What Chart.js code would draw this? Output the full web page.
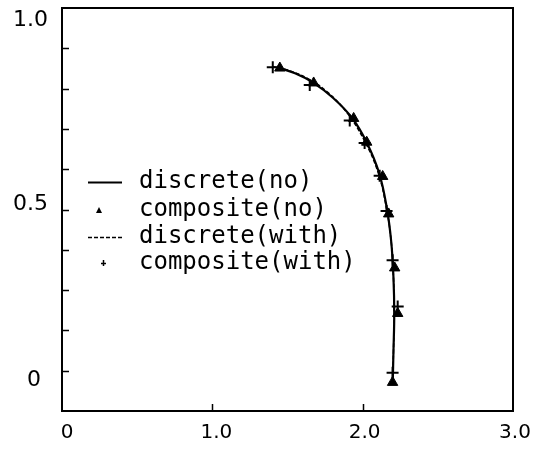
<!DOCTYPE html>
<html>
<head>
<meta charset="utf-8">
<script src="https://cdn.jsdelivr.net/npm/chart.js@4/dist/chart.umd.min.js"></script>
<style>
html,body{margin:0;padding:0;background:#fff;}
#wrap{width:544px;height:458px;position:relative;}
</style>
</head>
<body>
<div id="wrap"><canvas id="c" width="544" height="458"></canvas></div>
<script>
// ---- data ----
const discreteNoX   = [1.43, 1.55, 1.67, 1.80, 1.93, 2.03, 2.11, 2.16, 2.19, 2.205, 2.21, 2.205, 2.20];
const discreteNoY   = [0.853, 0.838, 0.815, 0.778, 0.727, 0.664, 0.590, 0.505, 0.420, 0.330, 0.240, 0.150, 0.070];
const compositeNoX  = [1.449, 1.674, 1.940, 2.027, 2.133, 2.173, 2.213, 2.233, 2.199];
const compositeNoY  = [0.851, 0.814, 0.726, 0.667, 0.582, 0.489, 0.355, 0.242, 0.071];
const discreteWithX = [1.40, 1.50, 1.63, 1.77, 1.90, 2.01, 2.10, 2.155, 2.19, 2.205, 2.21, 2.205, 2.20];
const discreteWithY = [0.855, 0.846, 0.826, 0.790, 0.738, 0.672, 0.595, 0.510, 0.420, 0.330, 0.240, 0.150, 0.080];
const compositeWithX = [1.402, 1.648, 1.914, 2.013, 2.113, 2.159, 2.199, 2.233, 2.199];
const compositeWithY = [0.853, 0.809, 0.721, 0.665, 0.584, 0.496, 0.374, 0.259, 0.095];

const seriesNames = ['discrete(no)', 'composite(no)', 'discrete(with)', 'composite(with)'];
const xTickValues = [0, 1, 2, 3];
const xTickLabels = ['0', '1.0', '2.0', '3.0'];
const xMinorTicks = [1, 2];
const yTickValues = [0, 0.5, 1.0];
const yTickLabels = ['0', '0.5', '1.0'];
const yMinorTicks = [0.1, 0.2, 0.3, 0.4, 0.5, 0.6, 0.7, 0.8, 0.9];

const zip = (xs, ys) => xs.map((x, i) => ({x: x, y: ys[i]}));

const frameAndLabels = {
  id: 'frameAndLabels',
  afterDraw(chart) {
    const ctx = chart.ctx;
    const a = chart.chartArea;
    const xs = chart.scales.x, ys = chart.scales.y;
    ctx.save();
    ctx.strokeStyle = '#000';
    ctx.lineWidth = 2;
    ctx.strokeRect(a.left, a.top, a.right - a.left, a.bottom - a.top);
    // inner ticks
    ctx.lineWidth = 1.5;
    ctx.beginPath();
    yMinorTicks.forEach(v => {
      const py = Math.round(ys.getPixelForValue(v)) + 0.5;
      ctx.moveTo(a.left, py); ctx.lineTo(a.left + 7, py);
    });
    xMinorTicks.forEach(v => {
      const px = Math.round(xs.getPixelForValue(v)) + 0.5;
      ctx.moveTo(px, a.bottom); ctx.lineTo(px, a.bottom - 7);
    });
    ctx.stroke();
    // tick labels
    ctx.fillStyle = '#000';
    ctx.font = '20px "DejaVu Sans"';
    ctx.textAlign = 'center';
    ctx.textBaseline = 'middle';
    const xShift = [5, 4, 2, 2];
    xTickValues.forEach((v, i) => {
      ctx.fillText(xTickLabels[i], xs.getPixelForValue(v) + xShift[i], a.bottom + 22);
    });
    ctx.font = '22px "DejaVu Sans"';
    ctx.textAlign = 'right';
    const yShift = [-31, -5, 12];
    const yRight = [41, 48, 48];
    yTickValues.forEach((v, i) => {
      ctx.fillText(yTickLabels[i], yRight[i], ys.getPixelForValue(v) + yShift[i]);
    });
    // legend
    const rows = [182, 210, 237, 263];
    ctx.font = '24px "DejaVu Sans Mono"';
    ctx.textAlign = 'left';
    chart.data.datasets.forEach((ds, i) => {
      const y = rows[i];
      ctx.strokeStyle = '#000';
      ctx.fillStyle = '#000';
      if (ds.showLine) {
        ctx.lineWidth = ds.borderWidth;
        ctx.setLineDash(ds.borderDash || []);
        ctx.beginPath(); ctx.moveTo(88, y + 0.5); ctx.lineTo(122, y + 0.5); ctx.stroke();
        ctx.setLineDash([]);
      } else if (ds.pointStyle === 'triangle') {
        ctx.beginPath();
        ctx.moveTo(99, y - 3); ctx.lineTo(102, y + 3); ctx.lineTo(96, y + 3); ctx.closePath(); ctx.fill();
      } else {
        ctx.lineWidth = 1.5;
        ctx.beginPath();
        ctx.moveTo(103.5, y - 3); ctx.lineTo(103.5, y + 3);
        ctx.moveTo(101, y + 0.5); ctx.lineTo(106, y + 0.5);
        ctx.stroke();
      }
      ctx.fillStyle = '#000';
      ctx.fillText(seriesNames[i], 139, y);
    });
    ctx.restore();
  }
};

new Chart(document.getElementById('c'), {
  type: 'scatter',
  data: {
    datasets: [
      { label: seriesNames[0], data: zip(discreteNoX, discreteNoY), showLine: true,
        borderColor: '#000', borderWidth: 2.2, pointRadius: 0, tension: 0.4, fill: false },
      { label: seriesNames[1], data: zip(compositeNoX, compositeNoY), showLine: false,
        pointStyle: 'triangle', pointRadius: 6, backgroundColor: '#000', borderColor: '#000', borderWidth: 1 },
      { label: seriesNames[2], data: zip(discreteWithX, discreteWithY), showLine: true,
        borderColor: '#000', borderWidth: 1.5, borderDash: [4, 2], pointRadius: 0, tension: 0.4, fill: false },
      { label: seriesNames[3], data: zip(compositeWithX, compositeWithY), showLine: false,
        pointStyle: 'cross', pointRadius: 6, borderColor: '#000', borderWidth: 2 }
    ]
  },
  options: {
    responsive: false,
    animation: false,
    layout: { padding: { left: 62, top: 5, right: 31, bottom: 47 } },
    plugins: { legend: { display: false }, tooltip: { enabled: false } },
    scales: {
      x: { type: 'linear', min: 0, max: 3, display: false },
      y: { type: 'linear', min: 0, max: 1, display: false }
    }
  },
  plugins: [frameAndLabels]
});
</script>
</body>
</html>
